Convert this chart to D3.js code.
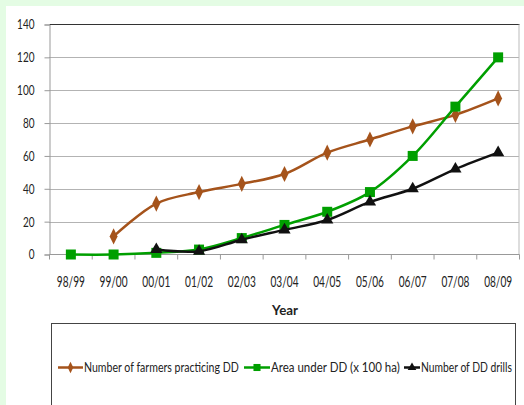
<!DOCTYPE html>
<html>
<head>
<meta charset="utf-8">
<script src="https://cdn.jsdelivr.net/npm/d3@7"></script>
<style>
  html, body { margin: 0; padding: 0; background: #e4fce4; }
  svg { display: block; }
  text { font-family: "Lato", "Open Sans", sans-serif; fill: #222; }
</style>
</head>
<body>
<svg id="chart" width="524" height="405"></svg>
<script>
// Seasons on the x axis
const years = ["98/99","99/00","00/01","01/02","02/03","03/04","04/05","05/06","06/07","07/08","08/09"];
// Number of farmers practicing DD (null = no record)
const farmers = [null, 11, 31, 38, 43, 49, 62, 70, 78, 85, 95];
// Area under DD (x 100 ha)
const area = [0, 0, 1, 3, 10, 18, 26, 38, 60, 90, 120];
// Number of DD drills
const drills = [null, null, 3, 2, 9, 15, 21, 32, 40, 52, 62];
const yTicks = [0, 20, 40, 60, 80, 100, 120, 140];

const series = [
  { name: "Number of farmers practicing DD", values: farmers, color: "#a5531b", symbol: d3.symbolDiamond, size: 75, sx: 0.85 },
  { name: "Area under DD (x 100 ha)", values: area, color: "#009f00", symbol: d3.symbolSquare, size: 100, sx: 1 },
  { name: "Number of DD drills", values: drills, color: "#111111", symbol: d3.symbolTriangle, size: 65, sx: 1 }
];

const svg = d3.select("#chart");

// condense a text horizontally so it spans the given width
function fitWidth(sel, width) {
  sel.each(function () {
    const t = d3.select(this);
    const w = this.getComputedTextLength();
    const w0 = typeof width === "function" ? width(t.datum()) : width;
    const k = w > 0 ? w0 / w : 1;
    const ax = +t.attr("x") || 0;
    t.attr("transform", `${t.attr("transform") || ""} translate(${ax},0) scale(${k},1) translate(${-ax},0)`);
  });
}

// white panel
svg.append("rect").attr("x", 6).attr("y", 6).attr("width", 518).attr("height", 399).attr("fill", "#ffffff");

const plot = { left: 49.5, top: 24.5, right: 519.5, bottom: 254.5 };

const x = d3.scaleBand().domain(years).range([plot.left, plot.right]);
const y = d3.scaleLinear().domain([0, 140]).range([plot.bottom, plot.top]);

// gridlines
svg.append("g").selectAll("line").data(yTicks.filter(t => t > 0 && t < 140)).join("line")
  .attr("x1", plot.left).attr("x2", plot.right)
  .attr("y1", d => Math.round(y(d)) + 0.5).attr("y2", d => Math.round(y(d)) + 0.5)
  .attr("stroke", "#666").attr("stroke-width", 1).attr("stroke-dasharray", "1,1");

// plot border: dark top, light right
svg.append("line").attr("x1", plot.left).attr("x2", plot.right).attr("y1", plot.top).attr("y2", plot.top)
  .attr("stroke", "#333");
svg.append("line").attr("x1", plot.right - 0.5).attr("x2", plot.right - 0.5).attr("y1", plot.top).attr("y2", plot.bottom)
  .attr("stroke", "#bbb");

// y axis
const yAxis = svg.append("g").attr("transform", `translate(${plot.left},0)`)
  .call(d3.axisLeft(y).tickValues(yTicks).tickSize(5).tickPadding(10));
yAxis.select(".domain").attr("stroke", "#999");
yAxis.selectAll(".tick line").attr("stroke", "#999");
yAxis.selectAll(".tick text").style("font-size", "14px").attr("fill", "#222").attr("font-family", null)
  .call(fitWidth, d => String(d).length * 5.8);

// x axis with ticks between categories
const xAxis = svg.append("g").attr("transform", `translate(0,${plot.bottom})`);
xAxis.append("line").attr("x1", plot.left).attr("x2", plot.right).attr("stroke", "#999");
xAxis.selectAll("line.t").data(d3.range(years.length + 1)).join("line").attr("class", "t")
  .attr("x1", i => plot.left + i * x.step()).attr("x2", i => plot.left + i * x.step())
  .attr("y1", 0).attr("y2", 5).attr("stroke", "#999");
xAxis.selectAll("text").data(years).join("text")
  .attr("x", d => x(d) + x.bandwidth() / 2).attr("y", 33)
  .attr("text-anchor", "middle").style("font-size", "14.5px").text(d => d)
  .call(fitWidth, 28);

// axis title
svg.append("text").attr("x", 285).attr("y", 315).attr("text-anchor", "middle")
  .style("font-size", "12.5px").style("font-weight", "bold").text("Year")
  .call(fitWidth, 26);

const cx = d => x(d) + x.bandwidth() / 2;
const line = d3.line()
  .defined(d => d.v != null)
  .x(d => cx(d.year)).y(d => y(d.v))
  .curve(d3.curveCatmullRom.alpha(0.5));

const layer = svg.append("g");
series.forEach(s => {
  const pts = years.map((yr, i) => ({ year: yr, v: s.values[i] }));
  layer.append("path").datum(pts).attr("d", line)
    .attr("fill", "none").attr("stroke", s.color).attr("stroke-width", 2.5);
  layer.append("g").selectAll("path").data(pts.filter(p => p.v != null)).join("path")
    .attr("d", d3.symbol().type(s.symbol).size(s.size))
    .attr("transform", d => `translate(${cx(d.year)},${y(d.v)}) scale(${s.sx},1)`)
    .attr("fill", s.color);
});

// legend box
svg.append("rect").attr("x", 51.5).attr("y", 323.5).attr("width", 464).attr("height", 100)
  .attr("fill", "#fff").attr("stroke", "#444");

const legendItems = [
  { s: series[0], x1: 58, x2: 83, tx: 84, tw: 155 },
  { s: series[1], x1: 244, x2: 270, tx: 271, tw: 129 },
  { s: series[2], x1: 404, x2: 420, tx: 421, tw: 91 }
];
const lg = svg.append("g");
legendItems.forEach(it => {
  lg.append("line").attr("x1", it.x1).attr("x2", it.x2).attr("y1", 367.5).attr("y2", 367.5)
    .attr("stroke", it.s.color).attr("stroke-width", 2.5);
  lg.append("path").attr("d", d3.symbol().type(it.s.symbol).size(it.s.size * 0.5))
    .attr("transform", `translate(${(it.x1 + it.x2) / 2},367.5) scale(${it.s.sx},1)`).attr("fill", it.s.color);
  lg.append("text").attr("x", it.tx).attr("y", 372).style("font-size", "13.5px").text(it.s.name)
    .call(fitWidth, it.tw);
});
</script>
</body>
</html>
